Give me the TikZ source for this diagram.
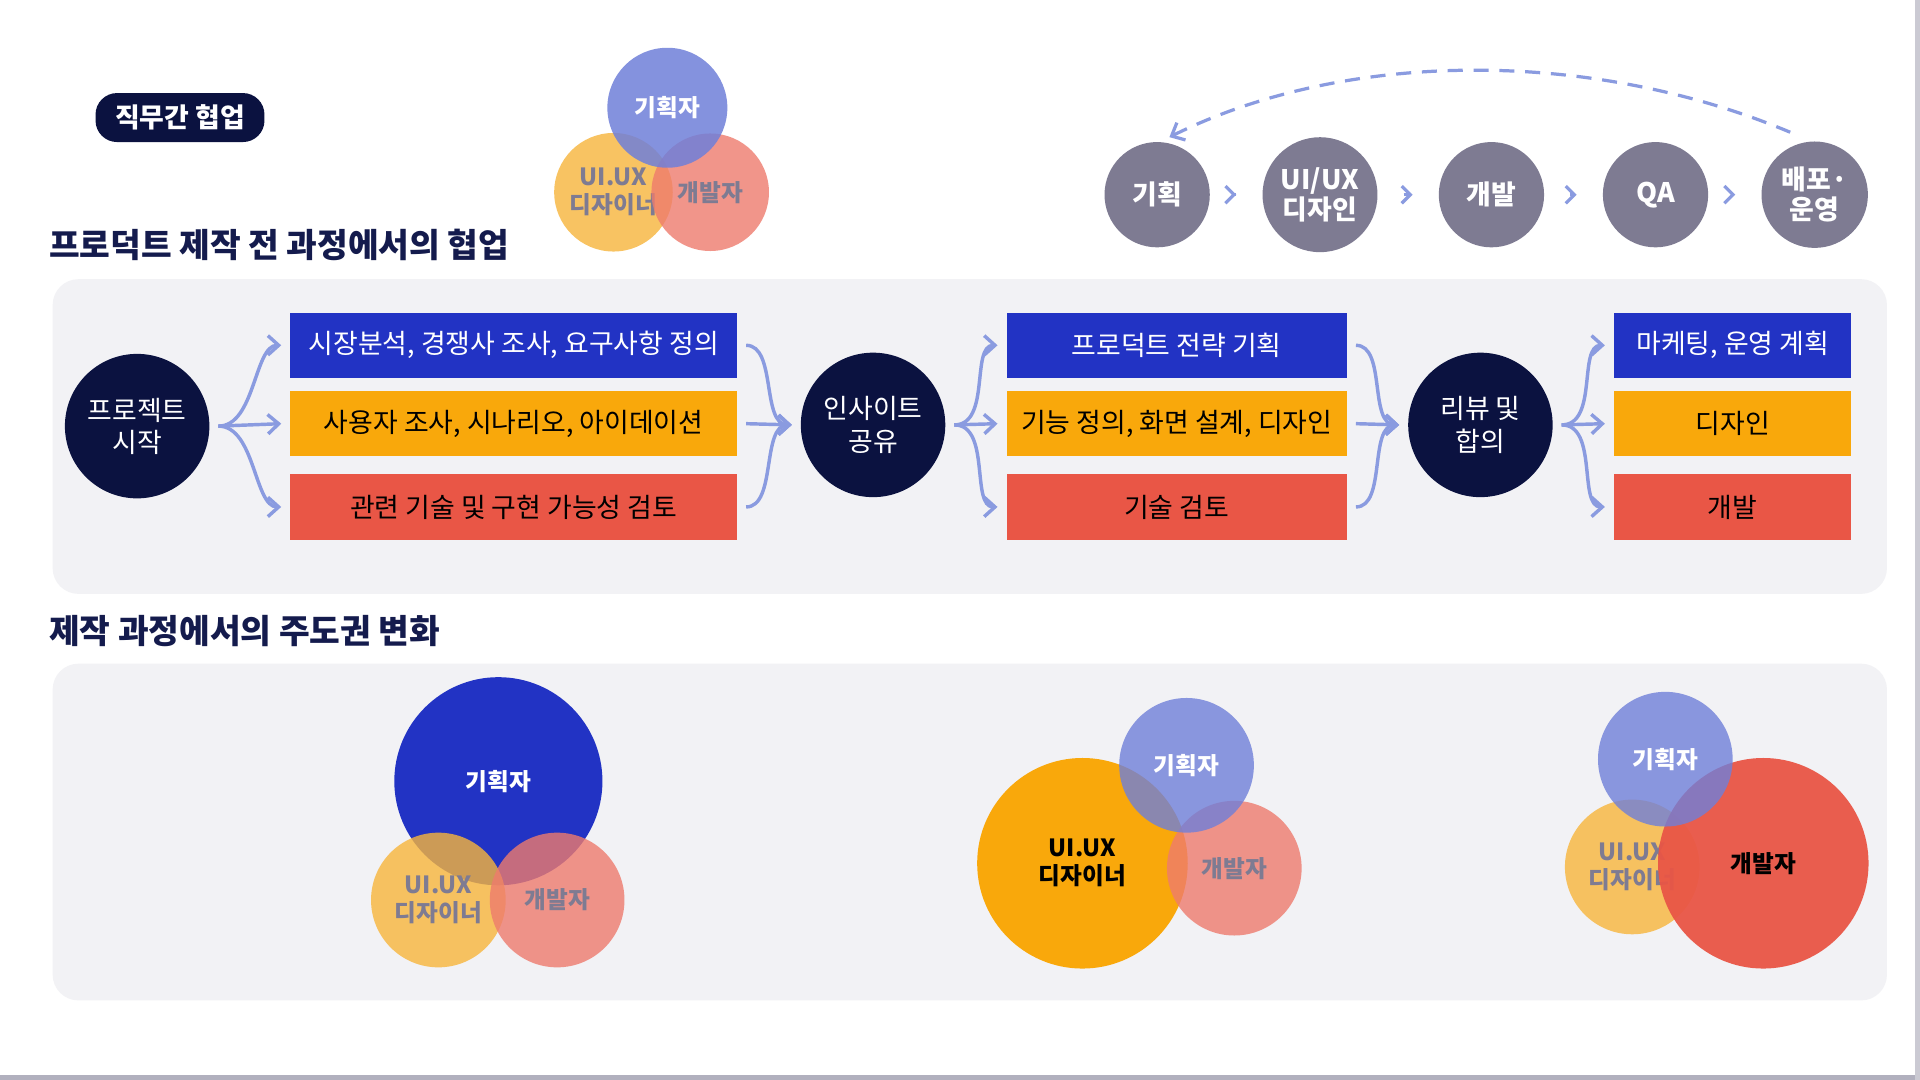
\documentclass[tikz,border=0pt]{standalone}
\usepackage{fontspec}
\setmainfont{Noto Sans CJK KR}
\usetikzlibrary{arrows.meta}
\definecolor{navy}{HTML}{0B1240}
\definecolor{ink}{HTML}{141B4D}
\definecolor{pblue}{HTML}{2233C4}
\definecolor{porange}{HTML}{F9A80B}
\definecolor{pred}{HTML}{E95646}
\definecolor{lblue}{HTML}{6F7FD9}
\definecolor{lorange}{HTML}{F7B53B}
\definecolor{lred}{HTML}{EE7B6D}
\definecolor{stepgray}{HTML}{7E7B92}
\definecolor{flow}{HTML}{8A9BE0}
\definecolor{panel}{HTML}{F2F2F5}
\tikzset{
  taskbox/.style = {minimum width = 7.3cm, minimum height = 1.07cm, text = white, font = \fontsize{12.5}{14}\selectfont},
  hub/.style = {circle, fill = navy, minimum size = 2.36cm, text = white, align = center, font = \fontsize{12.5}{15}\selectfont},
  stage/.style = {circle, fill = stepgray, minimum size = 1.72cm, text = white, align = center, font = \bfseries\fontsize{12.5}{14}\selectfont},
  role/.style = {circle, minimum size = #1, opacity = .8, text opacity = 1, align = center, font = \bfseries\fontsize{11}{13}\selectfont},
  fan/.style = {flow, line width = 1.6pt, -{Straight Barb[length = 5pt, width = 9pt]}},
  heading/.style = {anchor = west, text = ink, font = \bfseries\fontsize{15.5}{18}\selectfont}
}
\begin{document}
\begin{tikzpicture}[x = .02cm, y = -.02cm]
      \useasboundingbox (0,0) rectangle (1568,882);
      \fill [white] (0,0) rectangle (1568,882);
      % header
      \node [rounded corners = 10pt, fill = navy, text = white, minimum width = 2.76cm, minimum height = .8cm, font = \bfseries\fontsize{12.5}{14}\selectfont] (tag) at (147,96) {직무간 협업};
      \node [role = 1.92cm, fill = lorange, text = stepgray] (tux) at (501,157) {UI.UX\\디자이너};
      \node [role = 1.92cm, fill = lred, text = stepgray] (tdev) at (580,157) {개발자};
      \node [role = 1.96cm, fill = lblue, opacity = .85, text = white] (tplan) at (545,88) {기획자};
      \node [heading] (title1) at (34,200) {프로덕트 제작 전 과정에서의 협업};
      \node [heading] (title2) at (34,515) {제작 과정에서의 주도권 변화};
      % process line
      \node [stage] (s1) at (945,159) {기획};
      \node [stage] (s2) at (1078,159) {UI/UX\\디자인};
      \node [stage] (s3) at (1218,159) {개발};
      \node [stage] (s4) at (1352,159) {QA};
      \node [stage] (s5) at (1482,159) {배포·\\운영};
      \foreach \a/\b in {s1/s2, s2/s3, s3/s4, s4/s5}
        \draw [flow, line width = 1.5pt, -{Straight Barb[length = 4pt, width = 8pt]}, shorten <= 12pt, shorten >= 12pt] (\a) -- (\b);
      \draw [flow, line width = 1.5pt, dashed, dash pattern = on 7pt off 5pt, -{Straight Barb[length = 5pt, width = 9pt]}] (1462,108) .. controls (1300,40) and (1100,40) .. (955,112);
      % panel 1
      \fill [panel, rounded corners = 12pt] (43,228) rectangle (1541,485);
      \node [hub] (start) at (112,348) {프로젝트\\시작};
      \node [hub] (insight) at (713,347) {인사이트\\공유};
      \node [hub] (review) at (1209,347) {리뷰 및\\합의};
      \node [taskbox, fill = pblue] (a1) at (419.5,282) {시장분석, 경쟁사 조사, 요구사항 정의};
      \node [taskbox, fill = porange, text = black] (a2) at (419.5,346) {사용자 조사, 시나리오, 아이데이션};
      \node [taskbox, fill = pred, text = black] (a3) at (419.5,414) {관련 기술 및 구현 가능성 검토};
      \node [taskbox, fill = pblue, minimum width = 5.56cm] (b1) at (961,282) {프로덕트 전략 기획};
      \node [taskbox, fill = porange, text = black, minimum width = 5.56cm] (b2) at (961,346) {기능 정의, 화면 설계, 디자인};
      \node [taskbox, fill = pred, text = black, minimum width = 5.56cm] (b3) at (961,414) {기술 검토};
      \node [taskbox, fill = pblue, minimum width = 3.88cm] (c1) at (1415,282) {마케팅, 운영 계획};
      \node [taskbox, fill = porange, text = black, minimum width = 3.88cm] (c2) at (1415,346) {디자인};
      \node [taskbox, fill = pred, text = black, minimum width = 3.88cm] (c3) at (1415,414) {개발};
      \foreach \hub/\col in {start/a, insight/b, review/c} {
        \draw [fan] ([xshift = 4pt] \hub.east) .. controls +(30,0) and +(-22,0) .. ([xshift = -4pt] \col1.west);
        \draw [fan] ([xshift = 4pt] \hub.east) -- ([xshift = -4pt] \col2.west);
        \draw [fan] ([xshift = 4pt] \hub.east) .. controls +(30,0) and +(-22,0) .. ([xshift = -4pt] \col3.west);
      }
      \foreach \col/\hub in {a/insight, b/review} {
        \draw [fan] ([xshift = 4pt] \col1.east) .. controls +(25,0) and +(-25,0) .. ([xshift = -4pt] \hub.west);
        \draw [fan] ([xshift = 4pt] \col2.east) -- ([xshift = -4pt] \hub.west);
        \draw [fan] ([xshift = 4pt] \col3.east) .. controls +(25,0) and +(-25,0) .. ([xshift = -4pt] \hub.west);
      }
      % panel 2
      \fill [panel, rounded corners = 12pt] (43,542) rectangle (1541,817);
      \node [role = 3.4cm, fill = pblue, opacity = 1, text = white] (p1) at (407,638) {기획자};
      \node [role = 2.2cm, fill = lorange, text = stepgray] (u1) at (358,735) {UI.UX\\디자이너};
      \node [role = 2.2cm, fill = lred, text = stepgray] (d1) at (455,735) {개발자};
      \node [role = 3.44cm, fill = porange, opacity = 1, text = black] (u2) at (884,705) {UI.UX\\디자이너};
      \node [role = 2.2cm, fill = lred, text = stepgray] (d2) at (1008,709) {개발자};
      \node [role = 2.2cm, fill = lblue, text = white] (p2) at (969,625) {기획자};
      \node [role = 2.2cm, fill = lorange, text = stepgray] (u3) at (1333,708) {UI.UX\\디자이너};
      \node [role = 3.44cm, fill = pred, opacity = .95, text = black] (d3) at (1440,705) {개발자};
      \node [role = 2.2cm, fill = lblue, text = white] (p3) at (1360,620) {기획자};
      \draw [stepgray!60, line width = 2pt] (0,880) -- (1568,880);
      \draw [stepgray!40, line width = 2pt] (1566,0) -- (1566,882);
\end{tikzpicture}
\end{document}
